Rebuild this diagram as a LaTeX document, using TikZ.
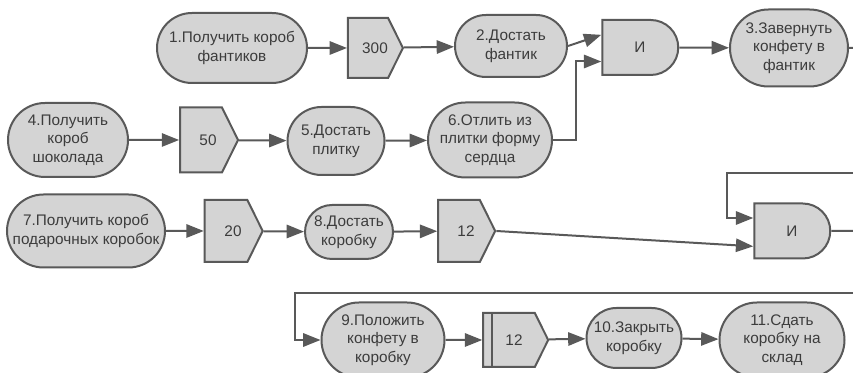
\documentclass[tikz,border=0pt]{standalone}
\usepackage{fontspec}
\setmainfont{Liberation Sans}
\usetikzlibrary{shapes.misc, shapes.symbols, arrows.meta}
\definecolor{boxfill}{HTML}{D4D4D4}
\definecolor{boxline}{HTML}{595959}
\definecolor{boxtext}{HTML}{3C3C3C}
\newcommand{\txt}[1]{\makebox[0pt]{\begin{tabular}{@{}c@{}}#1\end{tabular}}}
\newcommand{\sigtxt}[2][10.5pt]{\makebox[0pt]{\hspace{#1}#2}}

\begin{document}
\begin{tikzpicture}[x=0.75pt, y=-0.75pt,
    every node/.style={font=\fontsize{11.5}{14}\selectfont, text=boxtext},
    op/.style={draw=boxline, fill=boxfill, line width=1.5pt, rounded rectangle, inner sep=0pt},
    sig/.style={draw=boxline, fill=boxfill, line width=1.5pt, signal, signal to=east, signal pointer angle=127, inner sep=0pt},
    packbox/.style={sig, path picture={\draw[boxline, line width=1.2pt] ([xshift=6.75pt]path picture bounding box.north west) -- ([xshift=6.75pt]path picture bounding box.south west);}},
    gate/.style={draw=boxline, fill=boxfill, line width=1.5pt, rounded rectangle, rounded rectangle left arc=none, minimum width=57pt, minimum height=41.25pt, inner sep=0pt},
    flow/.style={draw=boxline, line width=1.5pt, -{Triangle[length=13pt,width=10pt]}},
    link/.style={draw=boxline, line width=1.5pt}]
  \useasboundingbox (0,0) rectangle (853,373);

  % first row: wrappers
  \node[op, minimum width=112.5pt, minimum height=52.5pt] (getwrap) at (232,48) {\txt{1.Получить короб\\фантиков}};
  \node[sig, minimum width=41.25pt, minimum height=45pt] (qty300) at (368,48) {\sigtxt{300}};
  \node[op, minimum width=84pt, minimum height=46.5pt] (takewrap) at (511,46) {\txt{2.Достать\\фантик}};
  \node[gate] (and1) at (640,47.5) {И};
  \node[op, minimum width=88.5pt, minimum height=57.75pt] (wrapcandy) at (789,48) {\txt{3.Завернуть\\конфету в\\фантик}};
  \coordinate (out1) at (856,48);

  % second row: chocolate
  \node[op, minimum width=90pt, minimum height=55.5pt] (getchoc) at (68,140) {\txt{4.Получить\\короб\\шоколада}};
  \node[sig, minimum width=43.5pt, minimum height=48.75pt] (qty50) at (201,140) {\sigtxt{50}};
  \node[op, minimum width=72.75pt, minimum height=51pt] (takebar) at (336,141) {\txt{5.Достать\\плитку}};
  \node[op, minimum width=93pt, minimum height=56.25pt] (castheart) at (490,140) {\txt{6.Отлить из\\плитки форму\\сердца}};

  % third row: boxes
  \node[op, minimum width=118.5pt, minimum height=54.75pt] (getboxes) at (86,231) {\txt{7.Получить короб\\подарочных коробок}};
  \node[sig, minimum width=43.5pt, minimum height=46.5pt] (qty20) at (226,231) {\sigtxt{20}};
  \node[op, minimum width=66pt, minimum height=40.5pt] (takebox) at (349,232) {\txt{8.Достать\\коробку}};
  \node[sig, minimum width=42.75pt, minimum height=46.5pt] (qty12) at (459,231) {\sigtxt{12}};
  \node[gate] (and2) at (792,231) {И};
  \coordinate (fb) at (856,173);
  \coordinate (out2) at (856,231);

  % fourth row: packing
  \node[op, minimum width=92.25pt, minimum height=56.25pt] (putcandy) at (383,340) {\txt{9.Положить\\конфету в\\коробку}};
  \node[packbox, minimum width=48.75pt, minimum height=40.5pt] (pack12) at (509,340) {\sigtxt[7.5pt]{12}};
  \node[op, minimum width=71.25pt, minimum height=45pt] (closebox) at (634,338) {\txt{10.Закрыть\\коробку}};
  \node[op, minimum width=93.75pt, minimum height=56.25pt] (store) at (782,340) {\txt{11.Сдать\\коробку на\\склад}};
  \coordinate (back) at (856,293);

  % gate inputs
  \coordinate (and1a) at ([yshift=9.5pt]and1.west);
  \coordinate (and1b) at ([yshift=-10.5pt]and1.west);
  \coordinate (and2a) at ([yshift=9.75pt]and2.west);
  \coordinate (and2b) at ([yshift=-11.5pt]and2.west);

  \draw[flow] (getwrap) -- (qty300);
  \draw[flow] (qty300) -- (takewrap);
  \draw[flow] (takewrap.east) -- (and1a);
  \draw[flow] (and1) -- (wrapcandy);
  \draw[link] (wrapcandy) -- (out1);

  \draw[flow] (getchoc) -- (qty50);
  \draw[flow] (qty50) -- (takebar);
  \draw[flow] (takebar) -- (castheart);
  \draw[flow] (castheart.east) -- ++(23,0) |- (and1b);

  \draw[flow] (getboxes) -- (qty20);
  \draw[flow] (qty20) -- (takebox);
  \draw[flow] (takebox) -- (qty12);
  \draw[flow] (qty12.east) -- (and2b);
  \draw[flow] (fb) -- ++(-129,0) |- (and2a);
  \draw[link] (and2) -- (out2);

  \draw[flow] (back) -- ++(-561,0) |- (putcandy.west);
  \draw[flow] (putcandy) -- (pack12);
  \draw[flow] (pack12) -- (closebox);
  \draw[flow] (closebox) -- (store);
\end{tikzpicture}
\end{document}
